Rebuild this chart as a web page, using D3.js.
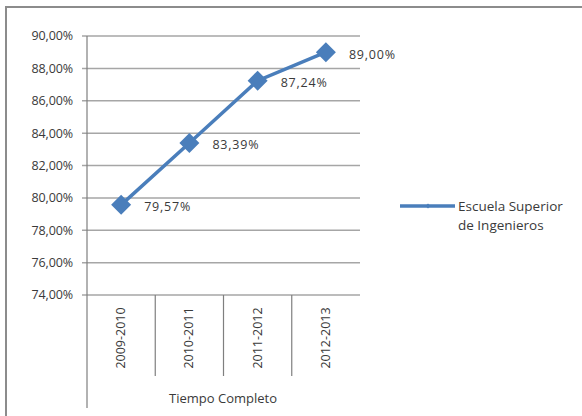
<!DOCTYPE html>
<html><head><meta charset="utf-8">
<script src="https://cdn.jsdelivr.net/npm/d3@7"></script>
<style>body{margin:0;background:#fff}svg{display:block}text{font-family:"Open Sans",Arial,sans-serif;fill:#3a3a3a}</style>
</head><body>
<script>
const categories = ["2009-2010","2010-2011","2011-2012","2012-2013"];
const values = [79.57, 83.39, 87.24, 89.00];
const valueLabels = ["79,57%","83,39%","87,24%","89,00%"];
const yTicks = [74,76,78,80,82,84,86,88,90];
const groupLabel = "Tiempo Completo";
const seriesName = ["Escuela Superior","de Ingenieros"];

const W=582,H=416;
const svg=d3.select("body").append("svg").attr("width",W).attr("height",H);
// frame
svg.append("line").attr("x1",6).attr("x2",582).attr("y1",7).attr("y2",7).attr("stroke","#8c8c8c").attr("stroke-width",2);
svg.append("line").attr("x1",6).attr("x2",6).attr("y1",6).attr("y2",416).attr("stroke","#8c8c8c").attr("stroke-width",2);

const x=d3.scaleBand().domain(categories).range([87,360]);
const y=d3.scaleLinear().domain([74,90]).range([295,36]);

// gridlines
svg.append("g").selectAll("line").data(yTicks).join("line")
  .attr("x1",82).attr("x2",360).attr("y1",d=>y(d)).attr("y2",d=>y(d))
  .attr("stroke","#a6a6a6").attr("stroke-width",1.5);
// y labels
const fmt=d=>d.toFixed(2).replace(".",",")+"%";
svg.append("g").selectAll("text").data(yTicks).join("text")
  .attr("x",73).attr("y",d=>y(d)).attr("dy","0.35em").attr("text-anchor","end")
  .attr("font-size",12.5).attr("letter-spacing",-0.1).text(fmt);
// left axis
svg.append("line").attr("x1",87).attr("x2",87).attr("y1",36).attr("y2",408).attr("stroke","#7f7f7f").attr("stroke-width",1.2);
// category dividers
svg.append("g").selectAll("line").data(categories.slice(1)).join("line")
  .attr("x1",d=>x(d)).attr("x2",d=>x(d)).attr("y1",295).attr("y2",376)
  .attr("stroke","#7f7f7f").attr("stroke-width",1.2);
// category labels
svg.append("g").selectAll("text").data(categories).join("text")
  .attr("transform",d=>`translate(${x(d)+x.bandwidth()/2+4},338) rotate(-90)`)
  .attr("text-anchor","middle").attr("font-size",12.5).text(d=>d);
svg.append("text").attr("x",223).attr("y",403).attr("text-anchor","middle").attr("font-size",13).text(groupLabel);

// line
const cx=(d,i)=>x(categories[i])+x.bandwidth()/2;
svg.append("path").datum(values)
  .attr("d",d3.line().x((d,i)=>cx(d,i)).y(d=>y(d)))
  .attr("fill","none").attr("stroke","#4a7ebb").attr("stroke-width",3.5);
svg.append("g").selectAll("path").data(values).join("path")
  .attr("d",d3.symbol(d3.symbolSquare,200)).attr("transform",(d,i)=>`translate(${cx(d,i)},${y(d)}) rotate(45)`)
  .attr("fill","#4a7ebb");
svg.append("g").selectAll("text").data(values).join("text")
  .attr("x",(d,i)=>cx(d,i)+23).attr("y",d=>y(d)+2).attr("dy","0.35em")
  .attr("font-size",12.5).attr("letter-spacing",0.8).text((d,i)=>valueLabels[i]);

// legend
svg.append("line").attr("x1",400).attr("x2",455).attr("y1",206).attr("y2",206).attr("stroke","#4a7ebb").attr("stroke-width",3.5);
svg.append("path").attr("transform","translate(428,206) rotate(45)").attr("d",d3.symbol(d3.symbolSquare,12)).attr("fill","#4a7ebb");
svg.append("g").selectAll("text").data(seriesName).join("text")
  .attr("x",458).attr("y",(d,i)=>206+i*19).attr("dy","0.35em").attr("font-size",13.5).text(d=>d);
</script>
</body></html>
